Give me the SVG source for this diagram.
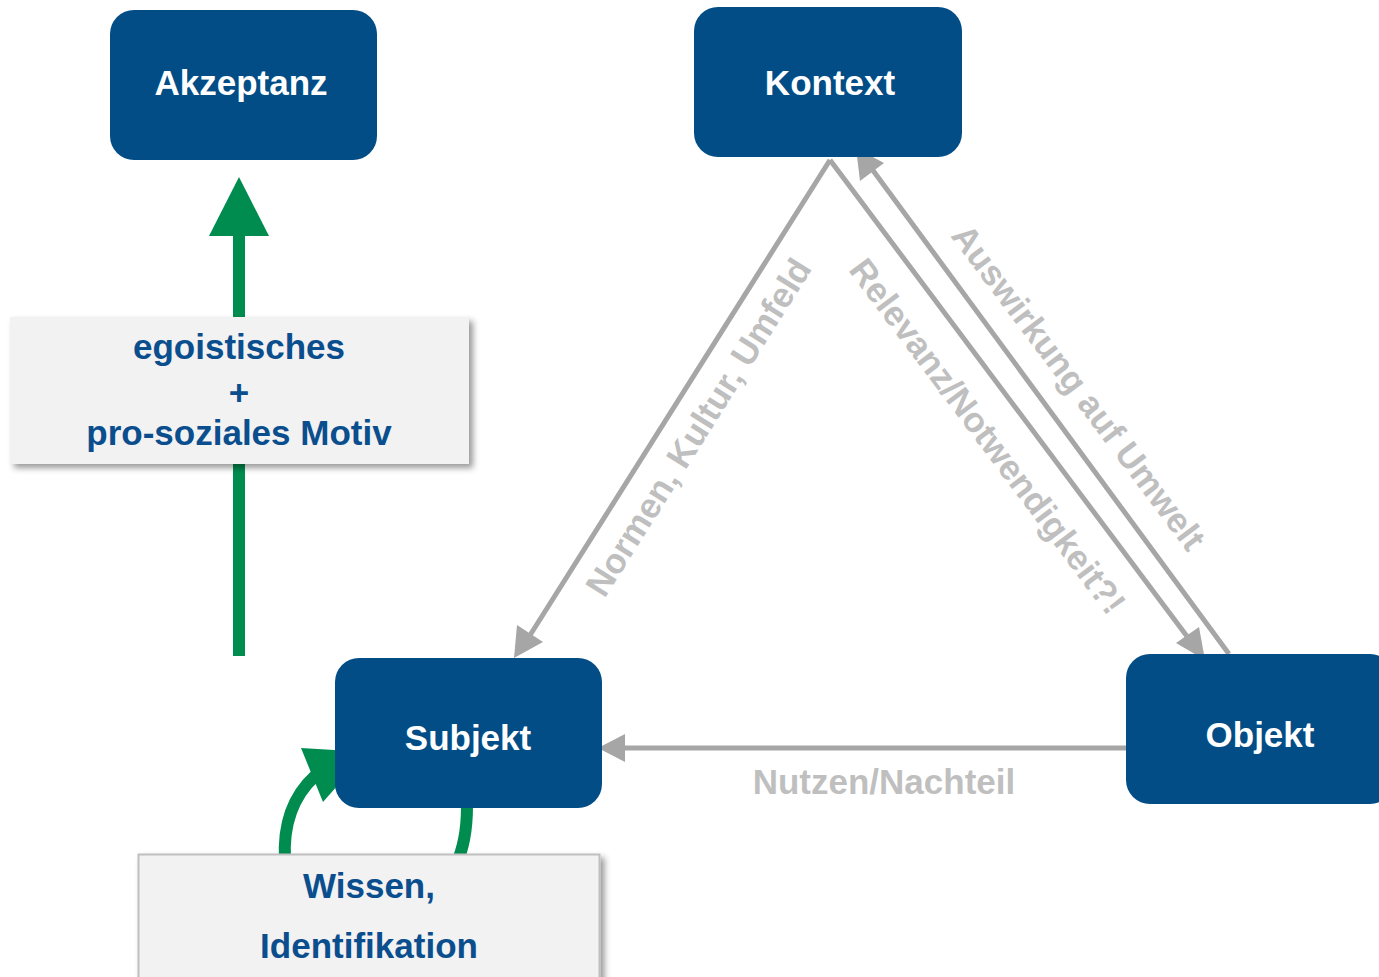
<svg xmlns="http://www.w3.org/2000/svg" width="1379" height="977" viewBox="0 0 1379 977">
<defs>
<style>
.box{fill:#024d86;}
.bt{font-family:"Liberation Sans",Arial,sans-serif;font-weight:bold;font-size:35px;fill:#ffffff;text-anchor:middle;}
.lbl{fill:#f2f2f2;}
.lt{font-family:"Liberation Sans",Arial,sans-serif;font-weight:bold;font-size:35px;fill:#0b4e8e;text-anchor:middle;}
.gl{stroke:#a6a6a6;stroke-width:5;fill:none;}
.gh{fill:#a6a6a6;}
.gt{font-family:"Liberation Sans",Arial,sans-serif;font-weight:bold;font-size:35px;fill:#bfbfbf;text-anchor:middle;dominant-baseline:central;}
.grn{stroke:#008c4f;stroke-width:12;fill:none;}
.grh{fill:#008c4f;}
</style>
<filter id="sh" x="-10%" y="-10%" width="125%" height="130%">
<feDropShadow dx="4" dy="4" stdDeviation="3" flood-color="#000" flood-opacity="0.4"/>
</filter>
</defs>
<g id="connectors">
<line class="gl" x1="830" y1="160" x2="527" y2="640"/>
<polygon class="gh" points="514,658 517,625 543,642"/>
<line class="gl" x1="830" y1="160" x2="1192" y2="643"/>
<polygon class="gh" points="1205,660 1176,643 1199,627"/>
<line class="gl" x1="1229" y1="654" x2="869" y2="165"/>
<polygon class="gh" points="856,148 860,181 884,163"/>
<line class="gl" x1="1128" y1="748" x2="620" y2="748"/>
<polygon class="gh" points="598,748 625,734 625,762"/>
<text class="gt" transform="translate(698,427) rotate(-57.8)">Normen, Kultur, Umfeld</text>
<text class="gt" transform="translate(988,436) rotate(53.1)">Relevanz/Notwendigkeit?!</text>
<text class="gt" transform="translate(1079,387) rotate(53.1)">Auswirkung auf Umwelt</text>
<text class="gt" x="884" y="781">Nutzen/Nachteil</text>
<line class="grn" x1="239" y1="656" x2="239" y2="230"/>
<polygon class="grh" points="239,177 209,236 269,236"/>
<path class="grn" d="M467 806 C467 832 463 848 456 866 C430 940 290 930 285 860 C283 825 292 797 315 776"/>
<polygon class="grh" points="367,752 301,748 323,802"/>
</g>
<g id="akzeptanz">
<rect class="box" x="110" y="10" width="267" height="150" rx="24"/>
<text class="bt" x="241" y="95">Akzeptanz</text>
</g>
<g id="kontext">
<rect class="box" x="694" y="7" width="268" height="150" rx="24"/>
<text class="bt" x="830" y="95">Kontext</text>
</g>
<g id="subjekt">
<rect class="box" x="335" y="658" width="267" height="150" rx="24"/>
<text class="bt" x="468" y="750">Subjekt</text>
</g>
<g id="objekt">
<rect class="box" x="1126" y="654" width="268" height="150" rx="24"/>
<text class="bt" x="1260" y="747">Objekt</text>
</g>
<g id="motiv">
<rect class="lbl" x="10" y="317" width="459" height="147" filter="url(#sh)"/>
<text class="lt" x="239" y="359">egoistisches</text>
<text class="lt" x="239" y="405">+</text>
<text class="lt" x="239" y="445">pro-soziales Motiv</text>
</g>
<g id="wissen">
<rect class="lbl" x="138.5" y="854.5" width="461" height="140" stroke="#bfbfbf" stroke-width="2" filter="url(#sh)"/>
<text class="lt" x="369" y="898">Wissen,</text>
<text class="lt" x="369" y="958">Identifikation</text>
</g>
</svg>
